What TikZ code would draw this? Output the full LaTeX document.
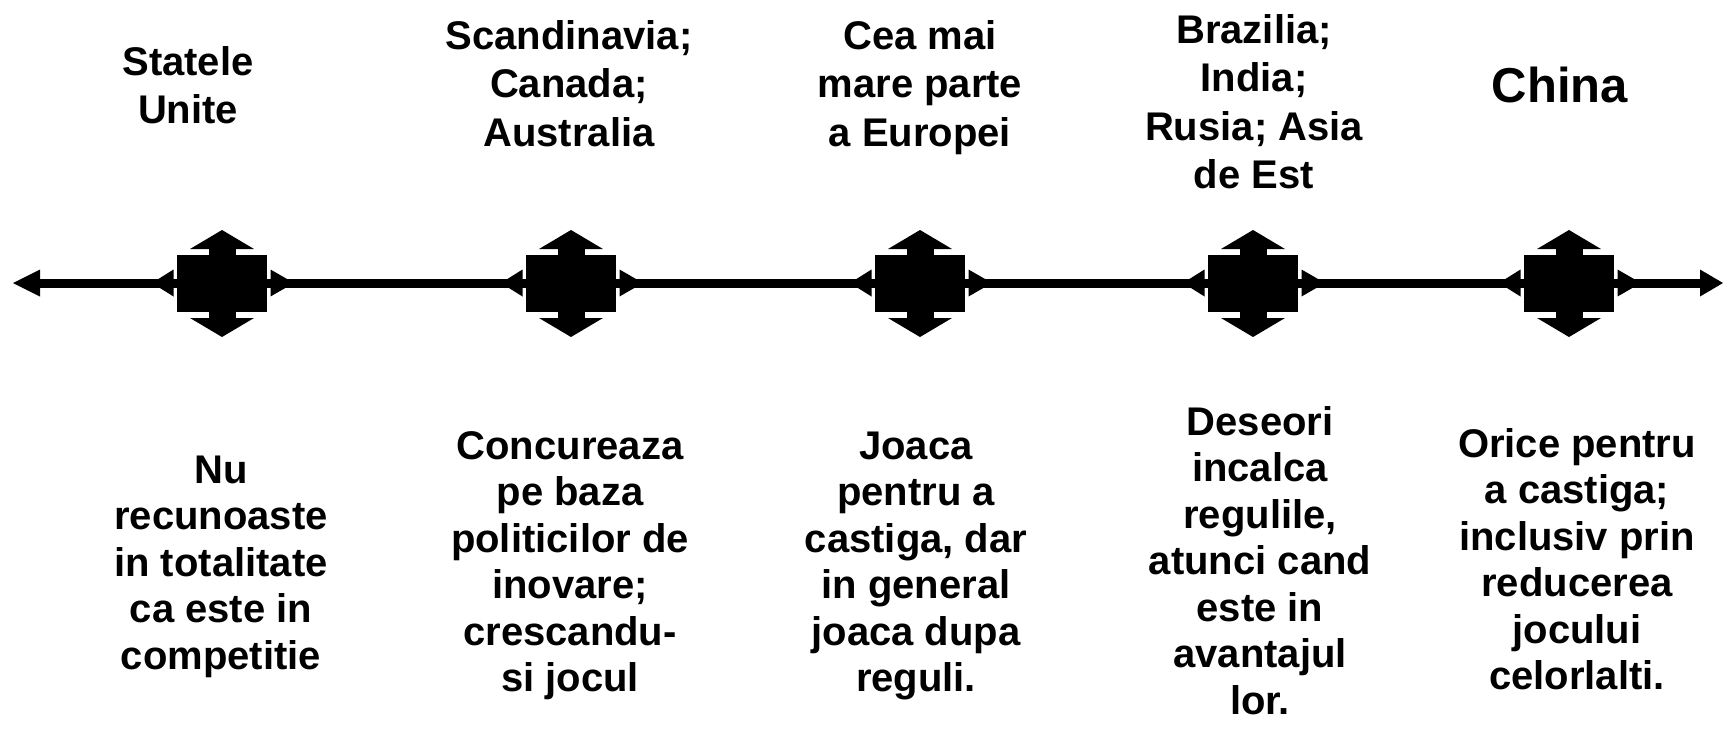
\documentclass[tikz,border=0pt]{standalone}
\usepackage{fontspec}
\setmainfont{Liberation Sans}
\newcommand{\mylines}[1]{\begin{tabular}[t]{@{}c@{}}#1\end{tabular}}
\tikzset{
  toplbl/.style={anchor=base, inner sep=0pt, font=\bfseries\fontsize{40}{48.5}\selectfont},
  botlbl/.style={anchor=base, inner sep=0pt, font=\bfseries\fontsize{40}{46.5}\selectfont},
  biglbl/.style={anchor=base, inner sep=0pt, font=\bfseries\fontsize{49}{58}\selectfont},
  sqbox/.style={fill=black, draw=none, minimum width=90pt, minimum height=57pt, inner sep=0pt},
  mainline/.style={line width=9pt},
  pics/crossmark/.style={code={
    \node[sqbox] (-sq) at (0,0.5) {};
    \fill (-32,-34) -- (0,-53) -- (32,-34) -- cycle;
    \fill (-13.5,-34.5) rectangle (13.5,-28);
    \fill (-32,35) -- (0,54) -- (32,35) -- cycle;
    \fill (-13.5,28.5) rectangle (13.5,35.5);
    \fill (-48.5,-13.5) -- (-70,0) -- (-48.5,13.5) -- cycle;
    \fill (-49,-4.5) rectangle (-44,4.5);
    \fill (48.5,-13.5) -- (72,0) -- (48.5,13.5) -- cycle;
    \fill (44,-4.5) rectangle (49,4.5);
  }}
}
\begin{document}
\begin{tikzpicture}[x=1pt, y=-1pt]
  \useasboundingbox (0,0) rectangle (1723,729);
  % main axis
  \coordinate (L) at (13,283);
  \coordinate (R) at (1723,283);
  \draw[mainline, shorten <=26pt, shorten >=22pt] (L) -- (R);
  \fill (L) -- ++(27,-13.5) -- ++(0,27) -- cycle;
  \fill (R) -- ++(-23,-13.5) -- ++(0,27) -- cycle;
  % markers
  \pic (m1) at (222,283) {crossmark};
  \pic (m2) at (571,283) {crossmark};
  \pic (m3) at (920,283) {crossmark};
  \pic (m4) at (1253,283) {crossmark};
  \pic (m5) at (1569,283) {crossmark};
  % top labels
  \node[toplbl] (t1) at (188,75) {\mylines{Statele\\Unite}};
  \node[toplbl] (t2) at (569,49) {\mylines{Scandinavia;\\Canada;\\Australia}};
  \node[toplbl] (t3) at (920,49) {\mylines{Cea mai\\mare parte\\a Europei}};
  \node[toplbl] (t4) at (1254,43) {\mylines{Brazilia;\\India;\\Rusia; Asia\\de Est}};
  \node[biglbl] (t5) at (1560,102) {China};
  % bottom labels
  \node[botlbl] (b1) at (221,483) {\mylines{Nu\\recunoaste\\in totalitate\\ca este in\\competitie}};
  \node[botlbl] (b2) at (570,459) {\mylines{Concureaza\\pe baza\\politicilor de\\inovare;\\crescandu-\\si jocul}};
  \node[botlbl] (b3) at (916,459) {\mylines{Joaca\\pentru a\\castiga, dar\\in general\\joaca dupa\\reguli.}};
  \node[botlbl] (b4) at (1260,435) {\mylines{Deseori\\incalca\\regulile,\\atunci cand\\este in\\avantajul\\lor.}};
  \node[botlbl] (b5) at (1577,457) {\mylines{Orice pentru\\a castiga;\\inclusiv prin\\reducerea\\jocului\\celorlalti.}};
\end{tikzpicture}
\end{document}
